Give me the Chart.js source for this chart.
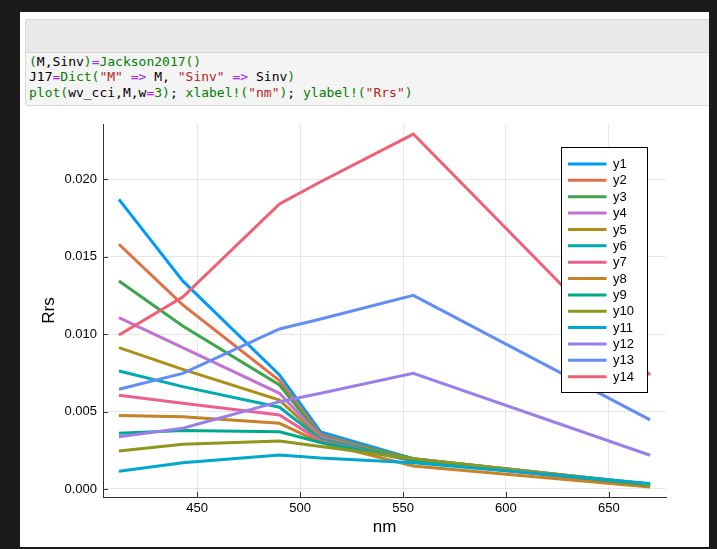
<!DOCTYPE html>
<html>
<head>
<meta charset="utf-8">
<script src="https://cdn.jsdelivr.net/npm/chart.js@4/dist/chart.umd.min.js"></script>
<style>
  html, body { margin: 0; padding: 0; }
  body { width: 717px; height: 549px; background: #1b1b1b; position: relative; overflow: hidden; }
  #panel { position: absolute; left: 20px; top: 12px; width: 689px; height: 535px; background: #ffffff; overflow: hidden; }
  #cell { position: absolute; left: 5px; top: 7px; width: 720px; height: 85px; border: 1px solid #d8d8d8; border-radius: 2px; background: #f4f4f4; }
  #cellhead { position: absolute; left: 0; top: 0; right: 0; height: 32px; background: #e9e9e9; border-bottom: 1px solid #d4d4d4; }
  pre#code { position: absolute; left: 9px; top: 42px; margin: 0; font-family: "DejaVu Sans Mono", monospace; font-size: 13px; line-height: 15.4px; color: #000; }
  .g { color: #008000; }
  .p { color: #aa22ff; }
  .s { color: #ba2121; }
  #chart { position: absolute; left: 0px; top: 94px; }
</style>
</head>
<body>
<div id="panel">
  <div id="cell"><div id="cellhead"></div></div>
  <pre id="code"><span class="g">(</span>M,Sinv<span class="g">)</span><span class="p">=</span><span class="g">Jackson2017()</span>
J17<span class="p">=</span><span class="g">Dict(</span><span class="s">"M"</span> <span class="p">=></span> M, <span class="s">"Sinv"</span> <span class="p">=></span> Sinv<span class="g">)</span>
<span class="g">plot(</span>wv_cci,M,w<span class="p">=</span><span class="g">3)</span>; <span class="g">xlabel!(</span><span class="s">"nm"</span><span class="g">)</span>; <span class="g">ylabel!(</span><span class="s">"Rrs"</span><span class="g">)</span></pre>
  <canvas id="chart" width="689" height="441"></canvas>
</div>
<script>
// ---- data ----
const wavelengths = [412, 443, 490, 510, 555, 670];
const seriesLabels = ["y1","y2","y3","y4","y5","y6","y7","y8","y9","y10","y11","y12","y13","y14"];
const y1  = [0.01871, 0.01344, 0.00736, 0.00368, 0.00195, 0.00030];
const y2  = [0.01581, 0.01189, 0.00700, 0.00350, 0.00190, 0.00022];
const y3  = [0.01344, 0.01053, 0.00672, 0.00340, 0.00195, 0.00025];
const y4  = [0.01107, 0.00913, 0.00618, 0.00335, 0.00185, 0.00020];
const y5  = [0.00913, 0.00773, 0.00575, 0.00325, 0.00190, 0.00020];
const y6  = [0.00762, 0.00661, 0.00528, 0.00320, 0.00185, 0.00022];
const y7  = [0.00605, 0.00554, 0.00478, 0.00310, 0.00180, 0.00020];
const y8  = [0.00474, 0.00467, 0.00424, 0.00300, 0.00148, 0.00012];
const y9  = [0.00360, 0.00377, 0.00370, 0.00300, 0.00185, 0.00025];
const y10 = [0.00245, 0.00289, 0.00310, 0.00275, 0.00195, 0.00030];
const y11 = [0.00114, 0.00170, 0.00220, 0.00200, 0.00170, 0.00036];
const y12 = [0.00338, 0.00392, 0.00564, 0.00618, 0.00747, 0.00218];
const y13 = [0.00644, 0.00747, 0.01034, 0.01098, 0.01251, 0.00446];
const y14 = [0.00995, 0.01240, 0.01841, 0.01985, 0.02293, 0.00736];
const seriesValues = [y1, y2, y3, y4, y5, y6, y7, y8, y9, y10, y11, y12, y13, y14];
const xTicks = [450, 500, 550, 600, 650];
const yTicks = [0.000, 0.005, 0.010, 0.015, 0.020];
const xRange = [404.26, 677.74];
const yRange = [-0.00052, 0.02358];
const xTitle = "nm";
const yTitle = "Rrs";

// ---- styling ----
const palette = ["#009afa","#e36f47","#3ea44e","#c371d2","#ac8e18","#00aaae","#ed5e93",
                 "#c68225","#00a98d","#8e971d","#00a8cb","#9b7fe9","#618df6","#f05f73"];
const FONT = "'Liberation Sans', Arial, Helvetica, sans-serif";

const datasets = seriesValues.map((vals, i) => ({
  label: seriesLabels[i],
  data: wavelengths.map((w, j) => ({ x: w, y: vals[j] })),
  borderColor: palette[i],
  backgroundColor: palette[i],
  borderWidth: 3,
  pointRadius: 0,
  fill: false,
  tension: 0,
  order: seriesValues.length - i
}));

const innerTicks = {
  id: 'innerTicks',
  afterDraw(chart) {
    const ctx = chart.ctx, xs = chart.scales.x, ys = chart.scales.y, a = chart.chartArea;
    ctx.save();
    ctx.strokeStyle = '#333';
    ctx.lineWidth = 1;
    ctx.beginPath();
    xs.ticks.forEach(t => {
      const px = Math.round(xs.getPixelForValue(t.value)) + 0.5;
      ctx.moveTo(px, a.bottom); ctx.lineTo(px, a.bottom - 5);
    });
    ys.ticks.forEach(t => {
      const py = Math.round(ys.getPixelForValue(t.value)) + 0.5;
      ctx.moveTo(a.left, py); ctx.lineTo(a.left + 5, py);
    });
    ctx.stroke();
    ctx.restore();
  }
};

const boxLegend = {
  id: 'boxLegend',
  afterDraw(chart) {
    const ctx = chart.ctx, a = chart.chartArea;
    const w = 86, h = 245;
    const left = Math.round(a.right - 19.5 - w) + 0.5;
    const top = Math.round(a.top + 22.5) + 0.5;
    ctx.save();
    ctx.fillStyle = '#fff';
    ctx.fillRect(left, top, w, h);
    ctx.strokeStyle = '#000';
    ctx.lineWidth = 1;
    ctx.strokeRect(left, top, w, h);
    ctx.font = "13px " + FONT;
    ctx.textBaseline = 'middle';
    ctx.textAlign = 'left';
    chart.data.datasets.forEach((ds, i) => {
      const y = top + 16.5 + i * 16.36;
      ctx.strokeStyle = ds.borderColor;
      ctx.lineWidth = 3;
      ctx.beginPath();
      ctx.moveTo(left + 6.5, y); ctx.lineTo(left + 45, y);
      ctx.stroke();
      ctx.fillStyle = '#000';
      ctx.fillText(ds.label, left + 51.5, y + 0.5);
    });
    ctx.restore();
  }
};

new Chart(document.getElementById('chart'), {
  type: 'line',
  data: { datasets },
  options: {
    responsive: false,
    animation: false,
    devicePixelRatio: 1,
    layout: { padding: { top: 18, right: 43, left: 0, bottom: 0 } },
    plugins: { legend: { display: false }, tooltip: { enabled: false } },
    scales: {
      x: {
        type: 'linear',
        min: xRange[0], max: xRange[1],
        afterBuildTicks: s => { s.ticks = xTicks.map(v => ({ value: v })); },
        afterFit: s => { s.height = 50; },
        grid: { color: 'rgba(0,0,0,0.09)', lineWidth: 1, drawTicks: false },
        border: { display: true, color: '#333', width: 1 },
        ticks: { padding: 4, color: '#000', font: { family: FONT, size: 13 }, maxRotation: 0, autoSkip: false,
                 callback: v => String(v) },
        title: { display: true, text: xTitle, color: '#000', font: { family: FONT, size: 17 }, padding: { top: 0, bottom: 9 } }
      },
      y: {
        type: 'linear',
        min: yRange[0], max: yRange[1],
        afterBuildTicks: s => { s.ticks = yTicks.map(v => ({ value: v })); },
        afterFit: s => { s.width = 83; },
        grid: { color: 'rgba(0,0,0,0.09)', lineWidth: 1, drawTicks: false },
        border: { display: true, color: '#333', width: 1 },
        ticks: { padding: 6, color: '#000', font: { family: FONT, size: 13 }, autoSkip: false,
                 callback: v => Number(v).toFixed(3) },
        title: { display: true, text: yTitle, color: '#000', font: { family: FONT, size: 17 }, padding: { top: 19, bottom: 0 } }
      }
    }
  },
  plugins: [innerTicks, boxLegend]
});
</script>
</body>
</html>
